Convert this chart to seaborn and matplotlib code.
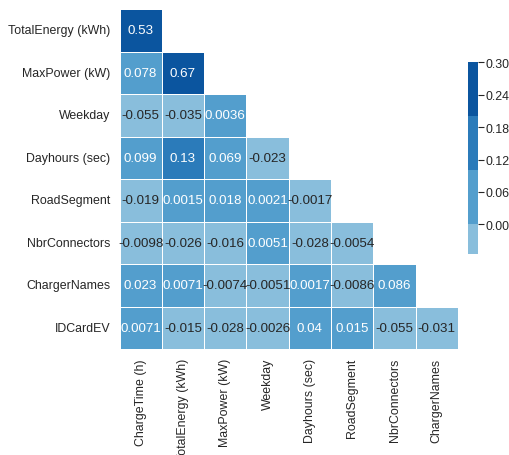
import numpy as np
import pandas as pd
import matplotlib
matplotlib.use("Agg")
import matplotlib.pyplot as plt
import seaborn as sns

row_labels = ["TotalEnergy (kWh)", "MaxPower (kW)", "Weekday", "Dayhours (sec)",
              "RoadSegment", "NbrConnectors", "ChargerNames", "IDCardEV"]
col_labels = ["ChargeTime (h)", "TotalEnergy (kWh)", "MaxPower (kW)", "Weekday",
              "Dayhours (sec)", "RoadSegment", "NbrConnectors", "ChargerNames"]

r_totalenergy = [0.53]
r_maxpower = [0.078, 0.67]
r_weekday = [-0.055, -0.035, 0.0036]
r_dayhours = [0.099, 0.13, 0.069, -0.023]
r_roadsegment = [-0.019, 0.0015, 0.018, 0.0021, -0.0017]
r_nbrconnectors = [-0.0098, -0.026, -0.016, 0.0051, -0.028, -0.0054]
r_chargernames = [0.023, 0.0071, -0.0074, -0.0051, 0.0017, -0.0086, 0.086]
r_idcardev = [0.0071, -0.015, -0.028, -0.0026, 0.04, 0.015, -0.055, -0.031]

cbar_ticks = [0.00, 0.06, 0.12, 0.18, 0.24, 0.30]

rows = [r_totalenergy, r_maxpower, r_weekday, r_dayhours, r_roadsegment,
        r_nbrconnectors, r_chargernames, r_idcardev]
n = len(col_labels)
mat = np.full((len(rows), n), np.nan)
for i, r in enumerate(rows):
    mat[i, :len(r)] = r
df = pd.DataFrame(mat, index=row_labels, columns=col_labels)
mask = np.isnan(mat)

sns.set_theme(style="white")
plt.rcParams['font.family'] = ['Liberation Sans', 'DejaVu Sans']

W, H = 509, 456
fs = 8.9
fig = plt.figure(figsize=(W / 100, H / 100), dpi=100)
ax = fig.add_axes([119.5 / W, 1 - 350 / H, (458 - 119.5) / W, 340 / H])
cax = fig.add_axes([468.3 / W, 1 - 255 / H, 10 / W, (255 - 63.3) / H])

sns.heatmap(df, mask=mask, cmap=sns.color_palette("Blues"), center=0, vmax=0.3,
            annot=True, linewidths=0.6, linecolor="white", ax=ax, cbar_ax=cax,
            annot_kws={"fontsize": 9.6})
ax.tick_params(axis="both", labelsize=fs, length=0, pad=6.5)
ax.set_xticklabels(col_labels, rotation=90)
ax.set_yticklabels(row_labels, rotation=0)
cax.set_yticks(cbar_ticks)
cax.set_yticklabels([f"{t:.2f}" for t in cbar_ticks])
cax.tick_params(labelsize=fs, length=4, width=0.8, right=True, pad=1)

fig.savefig("out.png", dpi=100)
